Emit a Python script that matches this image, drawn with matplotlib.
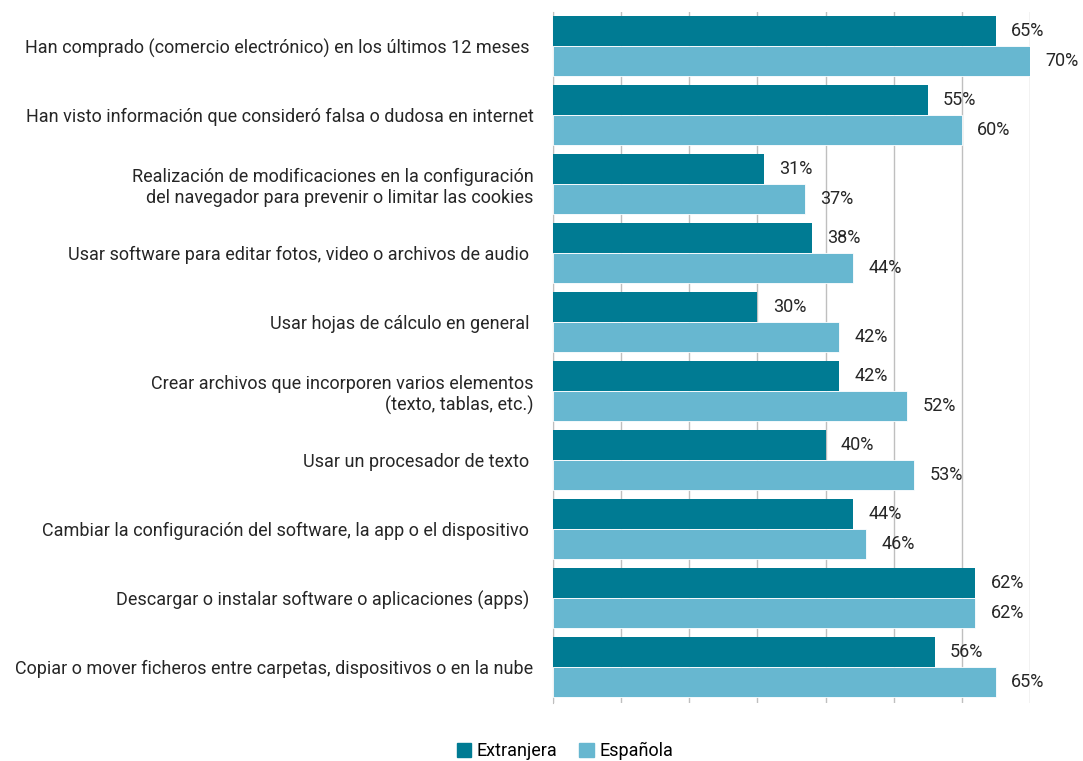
import matplotlib
matplotlib.use("Agg")
import matplotlib.pyplot as plt
from matplotlib.patches import Patch
from matplotlib import font_manager

categories = [
    "Han comprado (comercio electrónico) en los últimos 12 meses ",
    "Han visto información que consideró falsa o dudosa en internet",
    "Realización de modificaciones en la configuración\ndel navegador para prevenir o limitar las cookies",
    "Usar software para editar fotos, video o archivos de audio ",
    "Usar hojas de cálculo en general ",
    "Crear archivos que incorporen varios elementos\n(texto, tablas, etc.)",
    "Usar un procesador de texto ",
    "Cambiar la configuración del software, la app o el dispositivo ",
    "Descargar o instalar software o aplicaciones (apps) ",
    "Copiar o mover ficheros entre carpetas, dispositivos o en la nube",
]
extranjera = [65, 55, 31, 38, 30, 42, 40, 44, 62, 56]
espanola = [70, 60, 37, 44, 42, 52, 53, 46, 62, 65]
series_names = ["Extranjera", "Española"]

dark = "#007B93"
light = "#67B7D0"

names = {f.name for f in font_manager.fontManager.ttflist}
fam = "Liberation Sans Narrow" if "Liberation Sans Narrow" in names else "Roboto"
plt.rcParams["font.family"] = [fam, "DejaVu Sans"]

W, H = 1083, 761
fig = plt.figure(figsize=(W / 100, H / 100), dpi=100)
ax = fig.add_axes([553 / W, 1 - 703 / H, (1030 - 553) / W, (703 - 12) / H])

bh = 30 / 69
n = len(categories)
ys = list(range(n))
ax.barh([y - bh / 2 for y in ys], extranjera, height=bh, color=dark, zorder=3)
ax.barh([y + bh / 2 for y in ys], espanola, height=bh, color=light, zorder=3,
        edgecolor="white", linewidth=0.6)

for y, v in zip(ys, extranjera):
    ax.annotate(f"{v}%", (v, y - bh / 2), xytext=(11, 0), textcoords="offset points",
                va="center", ha="left", fontsize=13, color="#262626")
for y, v in zip(ys, espanola):
    ax.annotate(f"{v}%", (v, y + bh / 2), xytext=(11, 0), textcoords="offset points",
                va="center", ha="left", fontsize=13, color="#262626")

ax.set_xlim(0, 70)
ax.set_ylim(9.52, -0.49)
ax.set_xticks(range(0, 71, 10))
ax.set_xticklabels([])
ax.tick_params(axis="x", length=0)
ax.xaxis.grid(True, color="#BFBFBF", linewidth=1, zorder=0)
ax.set_axisbelow(True)
ax.set_yticks(ys)
ax.set_yticklabels(categories, fontsize=13, color="#262626", ha="right")
ax.tick_params(axis="y", length=0, pad=14)
for s in ["top", "right", "bottom"]:
    ax.spines[s].set_visible(False)
ax.spines["left"].set_color("#BFBFBF")

handles = [Patch(color=dark, label=series_names[0]), Patch(color=light, label=series_names[1])]
fig.legend(handles=handles, loc="center", bbox_to_anchor=(565 / W, 1 - 751 / H), ncol=2,
           frameon=False, fontsize=13, handlelength=0.8, handleheight=0.8,
           handletextpad=0.3, columnspacing=1.2)

fig.savefig("out.png", dpi=100)
